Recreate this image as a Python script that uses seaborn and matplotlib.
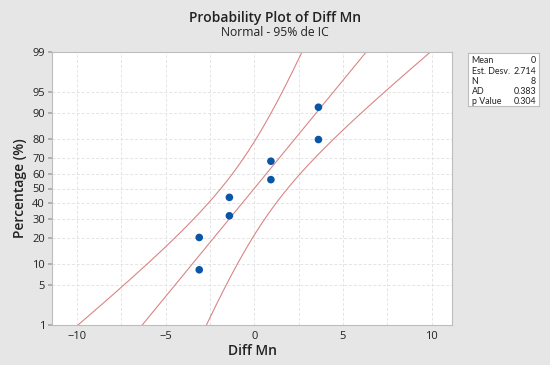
import numpy as np
import pandas as pd
import matplotlib
matplotlib.use("Agg")
import matplotlib.pyplot as plt
import seaborn as sns
from statistics import NormalDist

# data
diff_mn = [-3.1, -3.1, -1.4, -1.4, 0.94, 0.94, 3.62, 3.62]
percent = [8.3, 20.2, 32.1, 44.0, 56.0, 67.9, 79.8, 91.7]
mean, sd, n = 0.0, 2.714, 8
stat_names = ["Mean", "Est. Desv.", "N", "AD", "p Value"]
stat_values = ["0", "2.714", "8", "0.383", "0.304"]
y_ticks = [1, 5, 10, 20, 30, 40, 50, 60, 70, 80, 90, 95, 99]
x_ticks = [-10, -5, 0, 5, 10]

nd = NormalDist()
z = lambda p: nd.inv_cdf(p / 100.0)

sns.set_theme(style="white")
plt.rcParams["font.family"] = ["Open Sans", "DejaVu Sans"]

fig = plt.figure(figsize=(5.5, 3.65), dpi=100, facecolor="#e6e6e6")
ax = fig.add_axes([52 / 550, 40 / 365, 400 / 550, 273 / 365])
ax.set_facecolor("white")

# fitted line and 95% CI from the displayed estimates
zz = np.linspace(-3.2, 3.2, 200)
half = 1.96 * sd * np.sqrt(1 / n + zz ** 2 / (2 * n))
fit = pd.DataFrame({"z": zz, "mid": mean + sd * zz,
                    "lo": mean + sd * zz - half, "hi": mean + sd * zz + half})
line_col = "#d98585"
for col in ["lo", "mid", "hi"]:
    sns.lineplot(data=fit, x=col, y="z", sort=False, color=line_col, lw=0.8, ax=ax)

pts = pd.DataFrame({"x": diff_mn, "z": [z(p) for p in percent]})
sns.scatterplot(data=pts, x="x", y="z", color="#0b55a8", s=30, edgecolor="none", ax=ax, zorder=5)

ax.set_xlim(-11.4, 11.15)
ax.set_ylim(z(1), z(99))
ax.set_yticks([z(p) for p in y_ticks])
ax.set_yticklabels([str(p) for p in y_ticks])
ax.set_xticks(x_ticks)
ax.set_xticklabels(["\u221210", "\u22125", "0", "5", "10"])
ax.set_xticks([-7.5, -2.5, 2.5, 7.5], minor=True)
ax.grid(True, which="both", color="#e4e4e4", lw=0.7, ls=(0, (3, 2)))
ax.tick_params(axis="both", which="major", labelsize=8, length=3, color="#aaaaaa",
               colors="#222222", direction="out", pad=2, left=True, bottom=False)
ax.tick_params(axis="x", which="both", length=0, pad=4)
for sp in ax.spines.values():
    sp.set_color("#bdbdbd")
    sp.set_linewidth(0.8)

ax.set_xlabel("Diff Mn", fontsize=10, fontweight="semibold", color="#222222", labelpad=2)
ax.set_ylabel("Percentage (%)", fontsize=10, fontweight="semibold", color="#222222", labelpad=4)

fig.text(0.5, 1 - 18 / 365, "Probability Plot of Diff Mn", ha="center", va="center",
         fontsize=10, fontweight="semibold", color="#222222")
fig.text(0.5, 1 - 32 / 365, "Normal - 95% de IC", ha="center", va="center",
         fontsize=8.7, fontweight="medium", color="#222222")

# stats box
bx = fig.add_axes([468 / 550, 1 - 106 / 365, 71 / 550, 53 / 365])
bx.set_facecolor("white")
bx.set_xticks([])
bx.set_yticks([])
for sp in bx.spines.values():
    sp.set_color("#bdbdbd")
    sp.set_linewidth(0.8)
box_font = ["Lato", "DejaVu Sans"]
for i, (nm, vl) in enumerate(zip(stat_names, stat_values)):
    yy = 0.85 - i * 0.19
    bx.text(0.05, yy, nm, fontsize=6.4, family=box_font, va="center", ha="left",
            transform=bx.transAxes, color="#222222")
    bx.text(0.96, yy, vl, fontsize=6.4, family=box_font, va="center", ha="right",
            transform=bx.transAxes, color="#222222")

fig.savefig("out.png", dpi=100, facecolor=fig.get_facecolor())
